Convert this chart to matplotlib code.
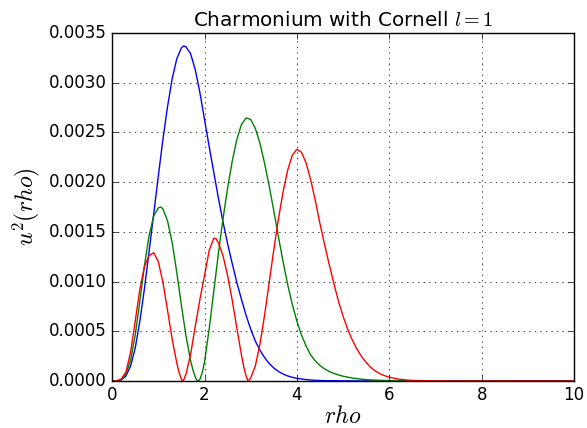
import numpy as np
import matplotlib
matplotlib.use("Agg")
import matplotlib.pyplot as plt

# --- values (u^2 in units of 1e-4) ---
rho_1p = [0, 0.1, 0.2, 0.3, 0.4, 0.5, 0.6, 0.7, 0.8, 0.9, 1.0, 1.1, 1.2, 1.3, 1.4,
          1.5, 1.55, 1.6, 1.7, 1.8, 1.9, 2.0, 2.1, 2.2, 2.3, 2.4, 2.5, 2.6, 2.7,
          2.8, 2.9, 3.0, 3.1, 3.2, 3.3, 3.4, 3.5, 3.6, 3.7, 3.8, 3.9, 4.0, 4.2,
          4.4, 4.6, 4.8, 5.0, 5.5, 10.0]
u2_1p = [0, 0.0, 0.1, 0.5, 1.5, 3.3, 6.0, 9.3, 13.0, 16.8, 20.6, 24.3, 27.6, 30.4, 32.4,
         33.5, 33.7, 33.6, 32.9, 31.3, 29.0, 26.3, 23.6, 21.0, 18.4, 16.0, 13.8, 11.8, 9.9,
         8.2, 6.6, 5.2, 4.0, 3.1, 2.35, 1.75, 1.3, 0.95, 0.7, 0.5, 0.36, 0.26, 0.13,
         0.06, 0.03, 0.015, 0.007, 0.0, 0.0]

rho_2p = [0, 0.1, 0.2, 0.3, 0.4, 0.5, 0.6, 0.7, 0.8, 0.9, 1.0, 1.05, 1.1, 1.2, 1.3,
          1.4, 1.5, 1.6, 1.7, 1.75, 1.8, 1.83, 1.86, 1.9, 1.95, 2.0, 2.1, 2.2, 2.3, 2.4,
          2.5, 2.6, 2.7, 2.8, 2.9, 3.0, 3.1, 3.2, 3.3, 3.4, 3.5, 3.6, 3.7, 3.8, 3.9,
          4.0, 4.1, 4.2, 4.3, 4.4, 4.5, 4.6, 4.7, 4.8, 4.9, 5.0, 5.2, 5.4, 5.6, 5.8,
          6.0, 6.5, 7.0, 10.0]
u2_2p = [0, 0.0, 0.15, 0.7, 2.1, 4.6, 8.0, 11.6, 14.6, 16.6, 17.4, 17.5, 17.3, 16.1, 13.9,
         10.9, 7.6, 4.5, 2.0, 1.1, 0.4, 0.1, 0.0, 0.15, 0.8, 1.9, 5.2, 9.0, 12.8, 16.3,
         19.4, 22.1, 24.3, 25.8, 26.45, 26.3, 25.4, 23.9, 21.9, 19.6, 17.1, 14.5, 12.0, 9.7, 7.7,
         6.0, 4.6, 3.5, 2.6, 2.0, 1.55, 1.2, 0.95, 0.75, 0.6, 0.47, 0.29, 0.17, 0.1, 0.06,
         0.035, 0.008, 0.001, 0.0]

rho_3p = [0, 0.1, 0.2, 0.3, 0.4, 0.5, 0.6, 0.7, 0.8, 0.9, 1.0, 1.1, 1.2, 1.3, 1.4,
          1.45, 1.5, 1.52, 1.55, 1.6, 1.7, 1.8, 1.9, 2.0, 2.1, 2.2, 2.25, 2.3, 2.4, 2.5,
          2.6, 2.7, 2.8, 2.85, 2.9, 2.94, 2.97, 3.0, 3.1, 3.2, 3.3, 3.4, 3.5, 3.6, 3.7,
          3.8, 3.9, 4.0, 4.1, 4.2, 4.3, 4.4, 4.5, 4.6, 4.7, 4.8, 4.9, 5.0, 5.1, 5.2,
          5.3, 5.4, 5.5, 5.6, 5.7, 5.8, 5.9, 6.0, 6.2, 6.4, 6.6, 7.0, 10.0]
u2_3p = [0, 0.0, 0.2, 0.9, 2.9, 6.0, 9.2, 11.5, 12.6, 12.9, 12.0, 9.9, 7.1, 4.2, 1.8,
         0.85, 0.15, 0.0, 0.1, 0.7, 2.7, 5.5, 8.2, 10.6, 13.1, 14.35, 14.3, 13.9, 12.6, 10.6,
         8.1, 5.3, 2.6, 1.4, 0.5, 0.0, 0.1, 0.3, 1.5, 3.7, 6.6, 9.9, 13.2, 16.3, 19.0,
         21.2, 22.7, 23.3, 23.0, 21.9, 20.2, 18.1, 15.8, 13.7, 11.7, 9.8, 8.0, 6.5, 5.2, 4.1,
         3.2, 2.45, 1.85, 1.35, 1.0, 0.72, 0.52, 0.37, 0.18, 0.08, 0.035, 0.006, 0.0]

plt.style.use("classic")

fig = plt.figure(figsize=(5.87, 4.28), dpi=100, facecolor="white")
ax = fig.add_axes([0.191, 0.110, 0.787, 0.813])

ax.plot(rho_1p, np.array(u2_1p) * 1e-4, "b-")
ax.plot(rho_2p, np.array(u2_2p) * 1e-4, "g-")
ax.plot(rho_3p, np.array(u2_3p) * 1e-4, "r-")

ax.set_xlim(0, 10)
ax.set_ylim(0, 0.0035)
ax.set_yticks(np.arange(0, 0.00351, 0.0005))
ax.yaxis.set_major_formatter(matplotlib.ticker.FormatStrFormatter("%.4f"))
ax.grid(True)

ax.set_title(r"Charmonium with Cornell $l=1$")
ax.set_xlabel(r"$rho$", fontsize=17, labelpad=0)
ax.set_ylabel(r"$u^2(rho)$", fontsize=17)

plt.savefig("out.png", dpi=100, facecolor="white")
